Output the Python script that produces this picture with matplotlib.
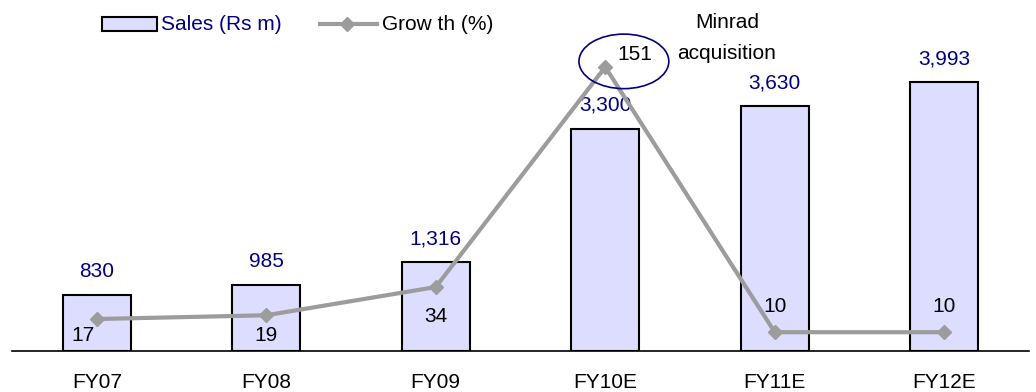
import matplotlib
matplotlib.use("Agg")
import matplotlib.pyplot as plt
from matplotlib.patches import Ellipse, Rectangle
from matplotlib.lines import Line2D

plt.rcParams["font.family"] = ["Liberation Sans", "DejaVu Sans"]

categories = ["FY07", "FY08", "FY09", "FY10E", "FY11E", "FY12E"]
sales = [830, 985, 1316, 3300, 3630, 3993]
growth = [17, 19, 34, 151, 10, 10]

NAVY = "#000080"
BAR_FILL = "#DDDDFF"
LINE_GREY = "#9C9C9C"
FS = 15

W, H = 1036, 392
fig = plt.figure(figsize=(W / 100, H / 100), dpi=100)

# plot area in pixels: baseline at y=351, left 12, right 1029, top 20
left_px, right_px, base_px, top_px = 12, 1029, 351, 20
ax = fig.add_axes([left_px / W, (H - base_px) / H,
                   (right_px - left_px) / W, (base_px - top_px) / H])
ax2 = ax.twinx()

x = list(range(len(categories)))
ax.bar(x, sales, width=0.4, color=BAR_FILL, edgecolor="black", linewidth=1.5, zorder=2)
ax.set_xlim(-0.5, len(categories) - 0.5)
ax.set_ylim(0, 4912)
ax2.set_ylim(0, 176)

ax2.plot(x, growth, color=LINE_GREY, linewidth=3, marker="D", markersize=7,
         markerfacecolor=LINE_GREY, markeredgecolor=LINE_GREY, zorder=3)

# sales value labels above bars
for xi, v in zip(x, sales):
    ax.annotate(f"{v:,}", (xi, v), xytext=(0, 10), textcoords="offset points",
                ha="center", va="bottom", color=NAVY, fontsize=FS)

# growth value labels
offsets = [(-10, -5), (0, -8), (0, -14), (21, 2), (0, 12), (0, 12)]
vas = ["top", "top", "top", "bottom", "bottom", "bottom"]
for xi, g, off, va in zip(x, growth, offsets, vas):
    ax2.annotate(f"{g}", (xi, g), xytext=off, textcoords="offset points",
                 ha="center", va=va, color="black", fontsize=FS, zorder=5)

# highlight around the acquisition-year growth figure
ell = Ellipse((3.11, 154), width=0.53, height=29, fill=False,
              edgecolor=NAVY, linewidth=1.2, zorder=4)
ax2.add_patch(ell)
fig.text(727 / W, 1 - 38 / H, "Minrad\nacquisition", ha="center", va="center",
         fontsize=FS, linespacing=1.85)

for a in (ax, ax2):
    for s in ("top", "right", "left"):
        a.spines[s].set_visible(False)
    a.set_yticks([])
ax2.spines["bottom"].set_visible(False)
ax.spines["bottom"].set_linewidth(1.2)
ax.set_xticks(x)
ax.set_xticklabels(categories, fontsize=FS)
ax.tick_params(axis="x", length=0, pad=16)

# legend
fig.patches.append(Rectangle((102 / W, 1 - 31 / H), 55 / W, 14 / H,
                             transform=fig.transFigure, facecolor=BAR_FILL,
                             edgecolor="black", linewidth=1.5))
fig.text(161 / W, 1 - 24 / H, "Sales (Rs m)", color=NAVY, fontsize=FS, va="center")
fig.lines.append(Line2D([320 / W, 377 / W], [1 - 24 / H, 1 - 24 / H],
                        transform=fig.transFigure, color=LINE_GREY, linewidth=3))
fig.lines.append(Line2D([347 / W], [1 - 24 / H], transform=fig.transFigure,
                        marker="D", markersize=7, color=LINE_GREY))
fig.text(382 / W, 1 - 24 / H, "Grow th (%)", color="black", fontsize=FS, va="center")

fig.savefig("out.png", dpi=100)
